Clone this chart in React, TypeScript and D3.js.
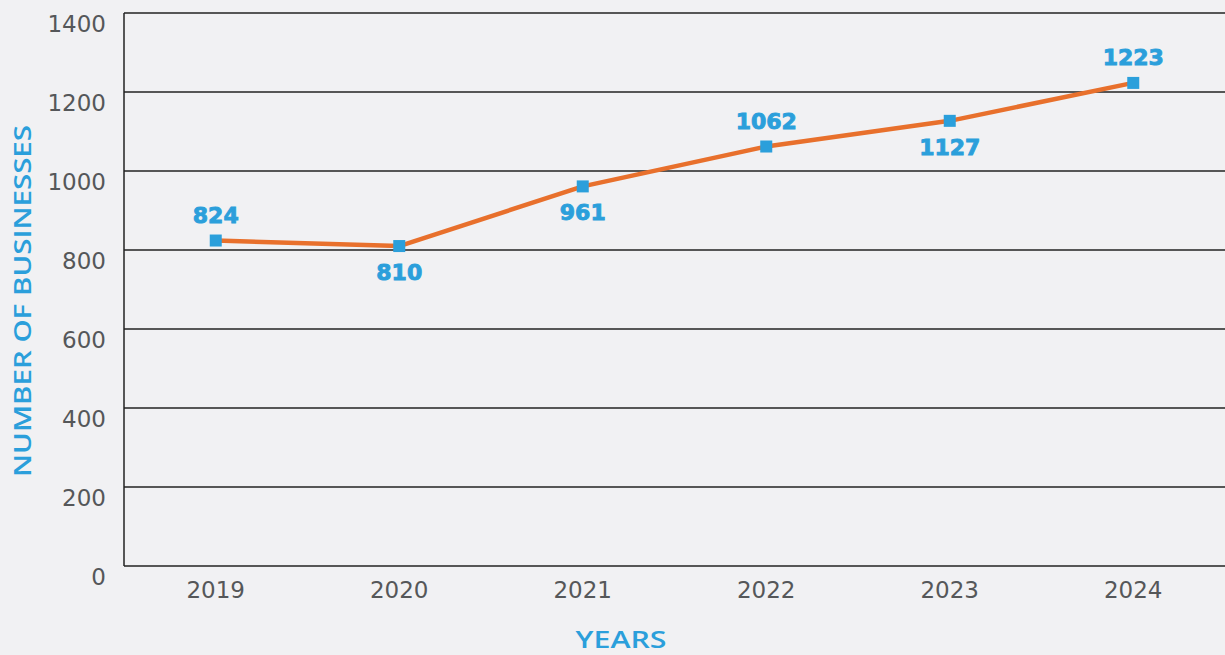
import React from "react";
import * as d3 from "d3";

const years = ["2019", "2020", "2021", "2022", "2023", "2024"];
const businesses = [824, 810, 961, 1062, 1127, 1223];
// label placement relative to each point
const labelSide = ["above", "below", "below", "above", "below", "above"];
const yTicks = [0, 200, 400, 600, 800, 1000, 1200, 1400];

const W = 1225;
const H = 655;
const margin = { left: 124, right: 0, top: 13, bottom: 89 };
const FONT = "'DejaVu Sans', 'Open Sans', sans-serif";
const TITLE_FONT = "'Open Sans', 'DejaVu Sans', sans-serif";
const BLUE = "#2b9fdb";
const ORANGE = "#e8702c";
const GRAY = "#555759";

export default function App() {
  const x = d3
    .scalePoint<string>()
    .domain(years)
    .range([margin.left, W - margin.right])
    .padding(0.5);
  const y = d3
    .scaleLinear()
    .domain([0, 1400])
    .range([H - margin.bottom, margin.top]);

  const line = d3
    .line<number>()
    .x((_, i) => x(years[i]) as number)
    .y((d) => y(d));

  return (
    <svg
      width={W}
      height={H}
      style={{ position: "absolute", left: 0, top: 0, background: "#f1f1f3", fontFamily: FONT }}
    >
      <rect x={0} y={0} width={W} height={H} fill="#f1f1f3" />
      {yTicks.map((t) => (
        <g key={t}>
          <line x1={margin.left} x2={W} y1={y(t)} y2={y(t)} stroke="#222" strokeWidth={1.5} />
          <text x={106} y={y(t) + 19} textAnchor="end" fontSize={23} fill={GRAY}>
            {t}
          </text>
        </g>
      ))}
      <line x1={margin.left} x2={margin.left} y1={y(1400)} y2={y(0)} stroke="#222" strokeWidth={1.5} />
      {years.map((yr) => (
        <text key={yr} x={x(yr)} y={598} textAnchor="middle" fontSize={23} fill={GRAY}>
          {yr}
        </text>
      ))}
      <path d={line(businesses) || ""} fill="none" stroke={ORANGE} strokeWidth={4.5} strokeLinejoin="round" />
      {businesses.map((v, i) => {
        const cx = x(years[i]) as number;
        const cy = y(v);
        return (
          <g key={i}>
            <rect x={cx - 6} y={cy - 6} width={12} height={12} fill={BLUE} />
            <text
              x={cx}
              y={labelSide[i] === "above" ? cy - 18 : cy + 34}
              textAnchor="middle"
              fontSize={22}
              fontWeight={700}
              fill={BLUE}
              stroke={BLUE}
              strokeWidth={0.9}
            >
              {v}
            </text>
          </g>
        );
      })}
      <text
        x={621}
        y={648}
        textAnchor="middle"
        fontFamily={TITLE_FONT}
        fontSize={24}
        fontWeight={600}
        fill={BLUE}
        textLength={91}
        lengthAdjust="spacingAndGlyphs"
      >
        YEARS
      </text>
      <text
        transform={`translate(31, 301) rotate(-90)`}
        textAnchor="middle"
        fontFamily={TITLE_FONT}
        fontSize={24}
        fontWeight={600}
        fill={BLUE}
        textLength={352}
        lengthAdjust="spacingAndGlyphs"
      >
        NUMBER OF BUSINESSES
      </text>
    </svg>
  );
}
